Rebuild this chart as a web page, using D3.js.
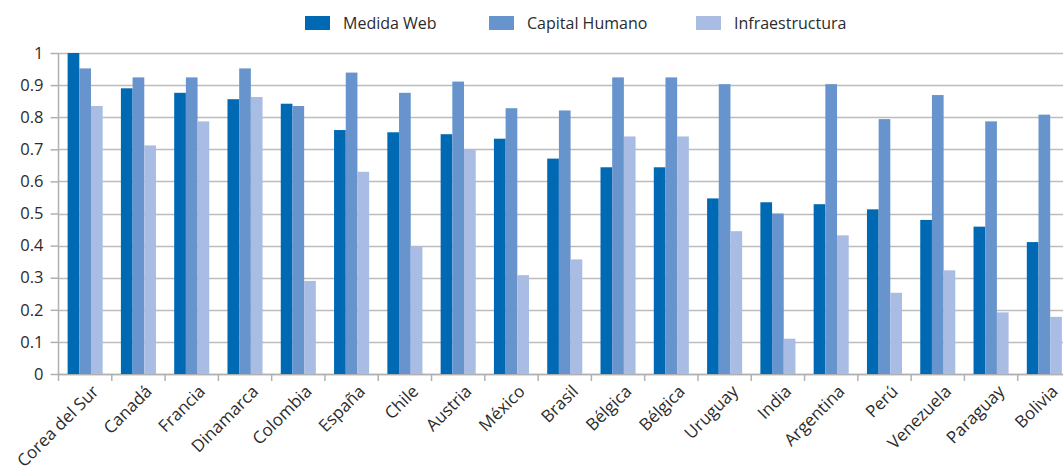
<!DOCTYPE html>
<html>
<head>
<meta charset="utf-8">
<script src="https://cdn.jsdelivr.net/npm/d3@7"></script>
<style>
  html, body { margin: 0; padding: 0; background: #fff; }
  svg { display: block; font-family: "Open Sans", "Noto Sans", sans-serif; }
</style>
</head>
<body>
<svg id="chart" width="1063" height="467"></svg>
<script>
const categories = ["Corea del Sur", "Canadá", "Francia", "Dinamarca", "Colombia", "España", "Chile", "Austria", "México", "Brasil", "Bélgica", "Bélgica", "Uruguay", "India", "Argentina", "Perú", "Venezuela", "Paraguay", "Bolivia"];
const seriesNames = ["Medida Web", "Capital Humano", "Infraestructura"];
const medidaWeb = [1.0, 0.890, 0.876, 0.856, 0.842, 0.760, 0.753, 0.747, 0.733, 0.671, 0.644, 0.644, 0.547, 0.535, 0.529, 0.513, 0.480, 0.459, 0.411];
const capitalHumano = [0.952, 0.924, 0.924, 0.952, 0.835, 0.939, 0.876, 0.911, 0.828, 0.821, 0.924, 0.924, 0.903, 0.500, 0.903, 0.794, 0.869, 0.787, 0.808];
const infraestructura = [0.835, 0.712, 0.787, 0.863, 0.290, 0.630, 0.397, 0.699, 0.308, 0.357, 0.740, 0.740, 0.445, 0.110, 0.432, 0.253, 0.323, 0.192, 0.178];
const yTicks = [0, 0.1, 0.2, 0.3, 0.4, 0.5, 0.6, 0.7, 0.8, 0.9, 1];
const yTickLabels = ["0", "0.1", "0.2", "0.3", "0.4", "0.5", "0.6", "0.7", "0.8", "0.9", "1"];

(function () {
const colors = ["#0069b4", "#6794cc", "#a9bde4"];
const seriesData = [medidaWeb, capitalHumano, infraestructura];

const svg = d3.select("#chart");
const mLeft = 58.5, mRight = 1071, mTop = 53, mBottom = 374;

const x0 = d3.scaleBand().domain(d3.range(categories.length)).range([mLeft, mRight]).padding(0);
const x1 = d3.scaleBand().domain(d3.range(seriesNames.length)).range([0, x0.bandwidth()]).paddingInner(0).paddingOuter(0.78);
const y = d3.scaleLinear().domain([0, 1]).range([mBottom, mTop]);

// gridlines
svg.append("g").selectAll("line").data(yTicks).join("line")
  .attr("x1", mLeft).attr("x2", 1063)
  .attr("y1", d => Math.round(y(d)) + 0.5).attr("y2", d => Math.round(y(d)) + 0.5)
  .attr("stroke", "#bcbcbc").attr("stroke-width", 1.5);

// y axis
const yAxis = d3.axisLeft(y).tickValues(yTicks).tickFormat((d, i) => yTickLabels[i]).tickSize(8).tickPadding(7);
const gy = svg.append("g").attr("transform", `translate(${mLeft},0)`).call(yAxis);
gy.select(".domain").attr("stroke", "#b0b0b0").attr("stroke-width", 1.5).attr("d", `M0,${mTop}V${mBottom}`);
gy.selectAll(".tick line").attr("stroke", "#b0b0b0").attr("stroke-width", 1.5);
gy.selectAll(".tick text").attr("fill", "#2b2b2b").style("font-size", "16.5px").style("font-family", "'Open Sans', sans-serif");

// x axis ticks at category boundaries
const boundaries = d3.range(categories.length + 1).map(i => mLeft + i * x0.step());
svg.append("g").selectAll("line").data(boundaries).join("line")
  .attr("x1", d => d).attr("x2", d => d)
  .attr("y1", mBottom).attr("y2", mBottom + 7)
  .attr("stroke", "#b0b0b0").attr("stroke-width", 1.5);
svg.append("line").attr("x1", mLeft).attr("x2", 1063).attr("y1", mBottom + 0.5).attr("y2", mBottom + 0.5)
  .attr("stroke", "#b0b0b0").attr("stroke-width", 1.5);

// bars
const groups = svg.append("g").selectAll("g").data(categories).join("g")
  .attr("transform", (d, i) => `translate(${x0(i)},0)`);
groups.selectAll("rect").data((d, i) => seriesData.map((s, k) => ({ k, v: s[i] }))).join("rect")
  .attr("x", d => x1(d.k))
  .attr("width", x1.bandwidth())
  .attr("y", d => y(d.v))
  .attr("height", d => y(0) - y(d.v))
  .attr("fill", d => colors[d.k]);

// x labels
svg.append("g").selectAll("text").data(categories).join("text")
  .attr("transform", (d, i) => `translate(${x0(i) + x0.bandwidth() / 2 + 6},${mBottom + 10}) rotate(-45)`)
  .attr("text-anchor", "end")
  .attr("dy", "0.71em")
  .attr("fill", "#2b2b2b")
  .style("font-size", "17px")
  .text(d => d);

// legend
const legendX = [305, 489, 696];
const lg = svg.append("g").selectAll("g").data(seriesNames).join("g")
  .attr("transform", (d, i) => `translate(${legendX[i]},16)`);
lg.append("rect").attr("width", 25).attr("height", 14).attr("fill", (d, i) => colors[i]);
lg.append("text").attr("x", 38).attr("y", 13).attr("fill", "#2b2b2b").style("font-size", "16px").text(d => d);
})();
</script>
</body>
</html>
